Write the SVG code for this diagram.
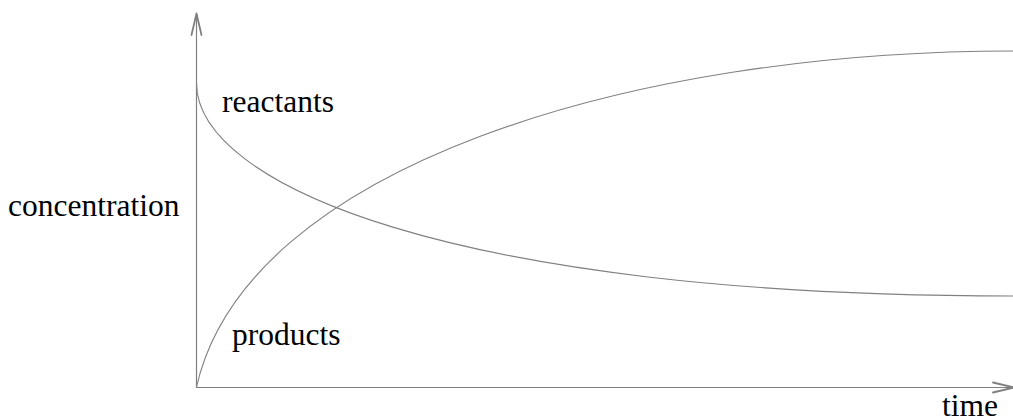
<svg xmlns="http://www.w3.org/2000/svg" width="1013" height="419" viewBox="0 0 1013 419">
<style>
.ax{fill:none;stroke:#808080;stroke-width:1.2}
.hd{fill:none;stroke:#808080;stroke-width:1.8;stroke-linecap:round;stroke-linejoin:round}
.cv{fill:none;stroke:#808080;stroke-width:1.1}
.lb{font-family:'Liberation Serif','DejaVu Serif',serif;font-size:31.5px;fill:#000}
</style>
<rect width="1013" height="419" fill="#fff"/>
<g id="connectors">
<line class="ax" x1="196.5" y1="387.5" x2="196.5" y2="14"/>
<polyline class="hd" points="191.5,35 196.5,13.5 201.5,35"/>
<line class="ax" x1="196" y1="387.5" x2="1012" y2="387.5"/>
<polyline class="hd" points="993,382.5 1014,387.5 993,392.5"/>
<path id="reactants-curve" class="cv" d="M196.5,83 C196.5,184 450,296 1013,296"/>
<path id="products-curve" class="cv" d="M196.5,387 C246,167 630,51 1013,51"/>
</g>
<g id="label-concentration"><text class="lb" x="8" y="216" font-family="Liberation Serif, serif">concentration</text></g>
<g id="label-reactants"><text class="lb" x="222" y="112" font-family="Liberation Serif, serif">reactants</text></g>
<g id="label-products"><text class="lb" x="232" y="345" font-family="Liberation Serif, serif">products</text></g>
<g id="label-time"><text class="lb" x="942" y="416" font-family="Liberation Serif, serif">time</text></g>
</svg>
